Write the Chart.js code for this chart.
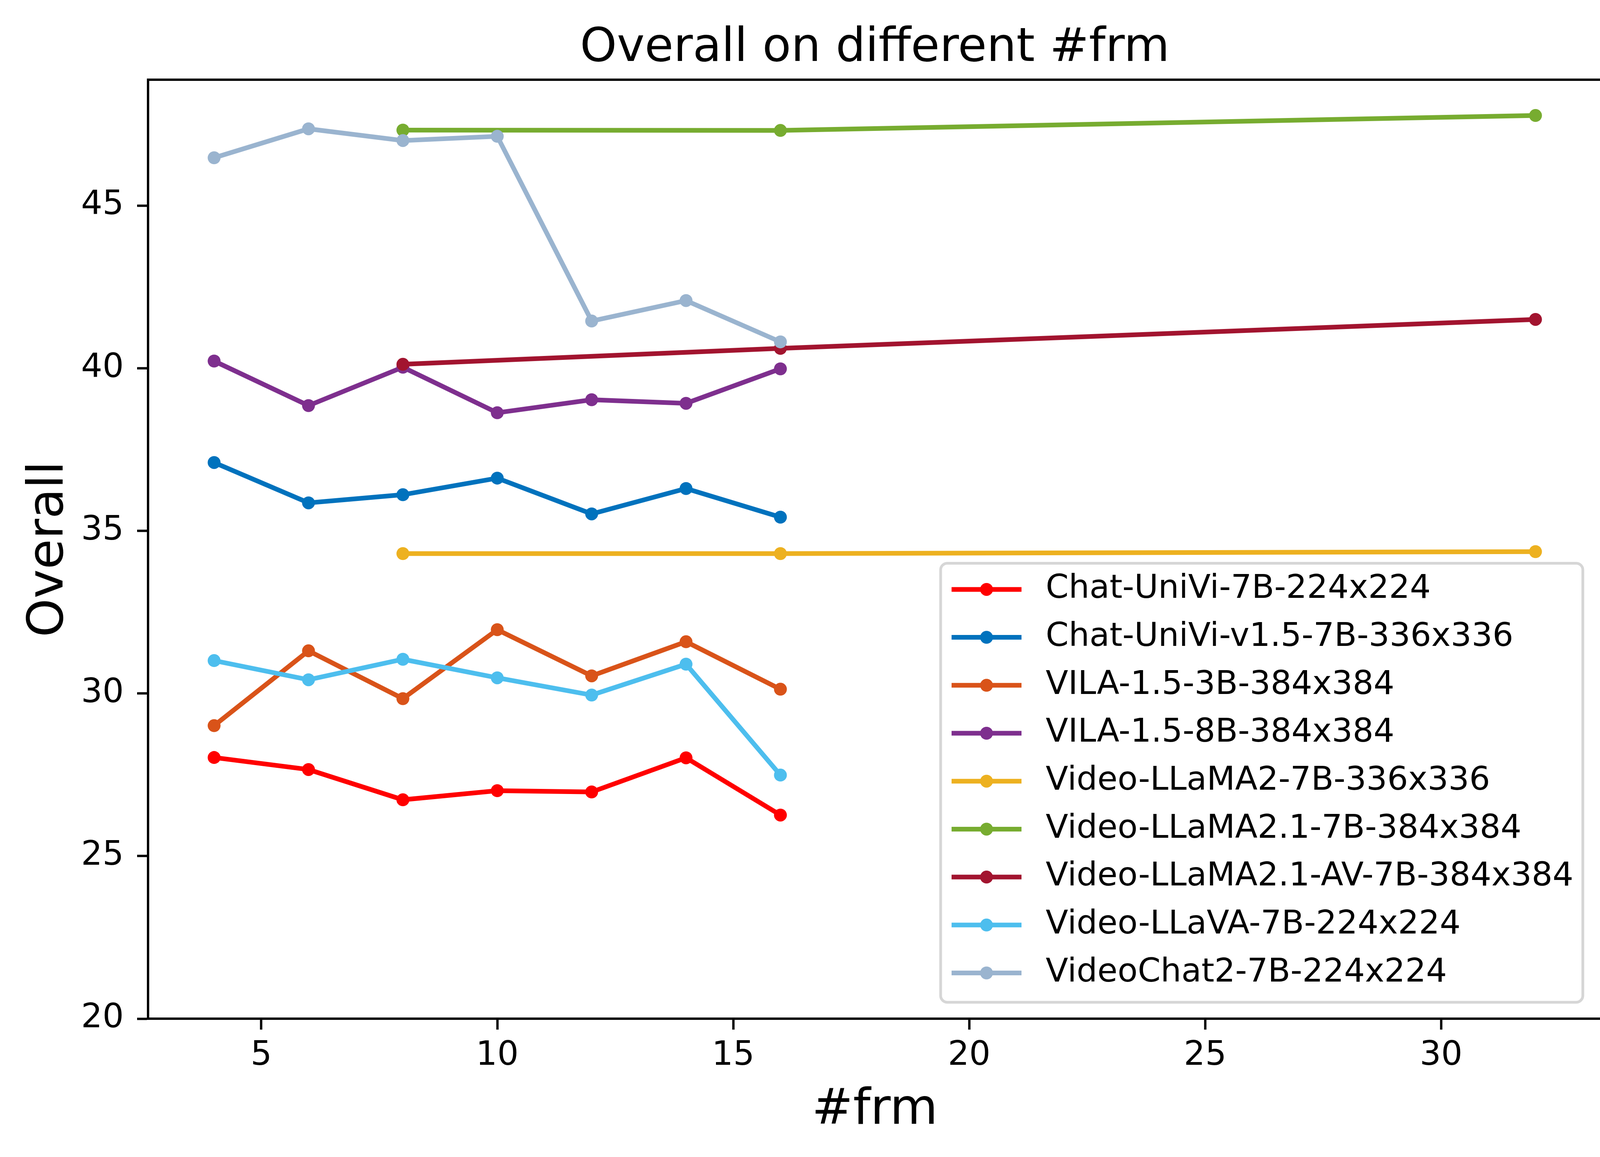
<!DOCTYPE html>
<html>
<head>
<meta charset="utf-8">
<script src="https://cdn.jsdelivr.net/npm/chart.js@4"></script>
<style>
  html, body { margin: 0; padding: 0; background: #fff; }
  canvas { display: block; }
</style>
</head>
<body>
<canvas id="grafico" width="4158" height="2961"></canvas>
<script>
// Frame counts (x values)
const framesShort = [4, 6, 8, 10, 12, 14, 16];
const framesLong = [8, 16, 32];

// Overall score per model
const chatUniVi7B = [28.03, 27.66, 26.73, 27.01, 26.97, 28.02, 26.26];
const chatUniViV15 = [37.10, 35.86, 36.11, 36.62, 35.52, 36.30, 35.42];
const vila3B = [29.01, 31.31, 29.84, 31.96, 30.54, 31.59, 30.13];
const vila8B = [40.22, 38.85, 40.03, 38.63, 39.03, 38.92, 39.98];
const videoLLaMA2 = [34.30, 34.30, 34.36];
const videoLLaMA21 = [47.32, 47.31, 47.77];
const videoLLaMA21AV = [40.12, 40.61, 41.50];
const videoLLaVA = [31.01, 30.42, 31.05, 30.48, 29.95, 30.90, 27.49];
const videoChat2 = [46.47, 47.36, 47.00, 47.13, 41.45, 42.08, 40.81];

const modelNames = [
    'Chat-UniVi-7B-224x224',
    'Chat-UniVi-v1.5-7B-336x336',
    'VILA-1.5-3B-384x384',
    'VILA-1.5-8B-384x384',
    'Video-LLaMA2-7B-336x336',
    'Video-LLaMA2.1-7B-384x384',
    'Video-LLaMA2.1-AV-7B-384x384',
    'Video-LLaVA-7B-224x224',
    'VideoChat2-7B-224x224'
];
const modelFrames = [framesShort, framesShort, framesShort, framesShort, framesLong, framesLong, framesLong, framesShort, framesShort];
const modelScores = [chatUniVi7B, chatUniViV15, vila3B, vila8B, videoLLaMA2, videoLLaMA21, videoLLaMA21AV, videoLLaVA, videoChat2];
const modelColors = ['#ff0000', '#0072bd', '#d95319', '#7e2f8e', '#edb120', '#77ac30', '#a2142f', '#4dbeee', '#9ab4cf'];

// Axis ticks
const xTickStep = 5;
const yTickStep = 5;

const FONT = "'DejaVu Sans', 'Liberation Sans', sans-serif";
Chart.defaults.font.family = FONT;
Chart.defaults.color = '#000';

const LINE_W = 12;
const DOT_R = 16.5;

const datasets = modelNames.map((name, i) => ({
    label: name,
    data: modelFrames[i].map((f, k) => ({ x: f, y: modelScores[i][k] })),
    borderColor: modelColors[i],
    backgroundColor: modelColors[i],
    pointBackgroundColor: modelColors[i],
    borderWidth: LINE_W,
    pointRadius: DOT_R,
    pointBorderWidth: 0,
    pointHoverRadius: DOT_R,
    tension: 0,
    fill: false,
    order: modelNames.length - i   // later series on top, like matplotlib
}));

// Box around the plot area (top and right spines too)
const frameBox = {
    id: 'frameBox',
    afterDatasetsDraw(chart) {
        const { ctx, chartArea: a } = chart;
        ctx.save();
        ctx.strokeStyle = '#000';
        ctx.lineWidth = 6;
        ctx.strokeRect(a.left, a.top, a.right - a.left, a.bottom - a.top);
        ctx.restore();
    }
};

// Legend in the lower right corner, matplotlib style (line + marker)
const legendBox = {
    id: 'legendBox',
    afterDraw(chart) {
        const { ctx, chartArea: a } = chart;
        const fontSize = 84;
        const rowH = 122.7;
        const padTop = 67, padBottom = 75, padLeft = 28, padRight = 24;
        const handleLen = 179, textGap = 62;
        const ds = chart.data.datasets;

        ctx.save();
        ctx.font = fontSize + 'px ' + FONT;
        let maxW = 0;
        ds.forEach(d => { maxW = Math.max(maxW, ctx.measureText(d.label).width); });

        const w = padLeft + handleLen + textGap + maxW + padRight;
        const h = padTop + rowH * (ds.length - 1) + padBottom;
        const right = a.right - 48;
        const bottom = a.bottom - 42;
        const left = right - w;
        const top = bottom - h;

        ctx.beginPath();
        ctx.roundRect(left, top, w, h, 17);
        ctx.fillStyle = 'rgba(255,255,255,0.8)';
        ctx.fill();
        ctx.lineWidth = 7;
        ctx.strokeStyle = '#d6d6d6';
        ctx.stroke();

        ds.forEach((d, i) => {
            const y = top + padTop + i * rowH;
            const x0 = left + padLeft;
            ctx.strokeStyle = d.borderColor;
            ctx.lineWidth = LINE_W;
            ctx.beginPath();
            ctx.moveTo(x0, y);
            ctx.lineTo(x0 + handleLen, y);
            ctx.stroke();
            ctx.fillStyle = d.borderColor;
            ctx.beginPath();
            ctx.arc(x0 + handleLen / 2, y, DOT_R, 0, Math.PI * 2);
            ctx.fill();
            ctx.fillStyle = '#000';
            ctx.textAlign = 'left';
            ctx.textBaseline = 'middle';
            ctx.fillText(d.label, x0 + handleLen + textGap, y);
        });
        ctx.restore();
    }
};

const ctx = document.getElementById('grafico').getContext('2d');
new Chart(ctx, {
    type: 'line',
    data: { datasets: datasets },
    plugins: [frameBox, legendBox],
    options: {
        responsive: false,
        devicePixelRatio: 1,
        animation: false,
        layout: { padding: { left: 0, right: 58, top: 0, bottom: 0 } },
        scales: {
            x: {
                type: 'linear',
                min: 2.6,
                max: 33.4,
                afterFit: scale => { scale.height = 354; },
                ticks: {
                    stepSize: xTickStep,
                    includeBounds: false,
                    font: { size: 86 },
                    color: '#000',
                    padding: 16,
                    maxRotation: 0
                },
                grid: {
                    drawOnChartArea: false,
                    drawTicks: true,
                    tickLength: 28,
                    tickWidth: 6,
                    tickColor: '#000'
                },
                border: { display: true, color: '#000', width: 6 },
                title: {
                    display: true,
                    text: '#frm',
                    color: '#000',
                    font: { size: 126 },
                    padding: { top: 0, bottom: 42 }
                }
            },
            y: {
                type: 'linear',
                min: 20,
                max: 48.87,
                afterFit: scale => { scale.width = 379; },
                ticks: {
                    stepSize: yTickStep,
                    includeBounds: false,
                    font: { size: 86 },
                    color: '#000',
                    padding: 34
                },
                grid: {
                    drawOnChartArea: false,
                    drawTicks: true,
                    tickLength: 28,
                    tickWidth: 6,
                    tickColor: '#000'
                },
                border: { display: true, color: '#000', width: 6 },
                title: {
                    display: true,
                    text: 'Overall',
                    color: '#000',
                    font: { size: 126 },
                    padding: { top: 52, bottom: 0 }
                }
            }
        },
        plugins: {
            legend: { display: false },
            tooltip: { enabled: false },
            title: {
                display: true,
                text: 'Overall on different #frm',
                color: '#000',
                fullSize: false,
                font: { size: 120, weight: 'normal' },
                padding: { top: 53, bottom: 7 }
            }
        }
    }
});
</script>
</body>
</html>
